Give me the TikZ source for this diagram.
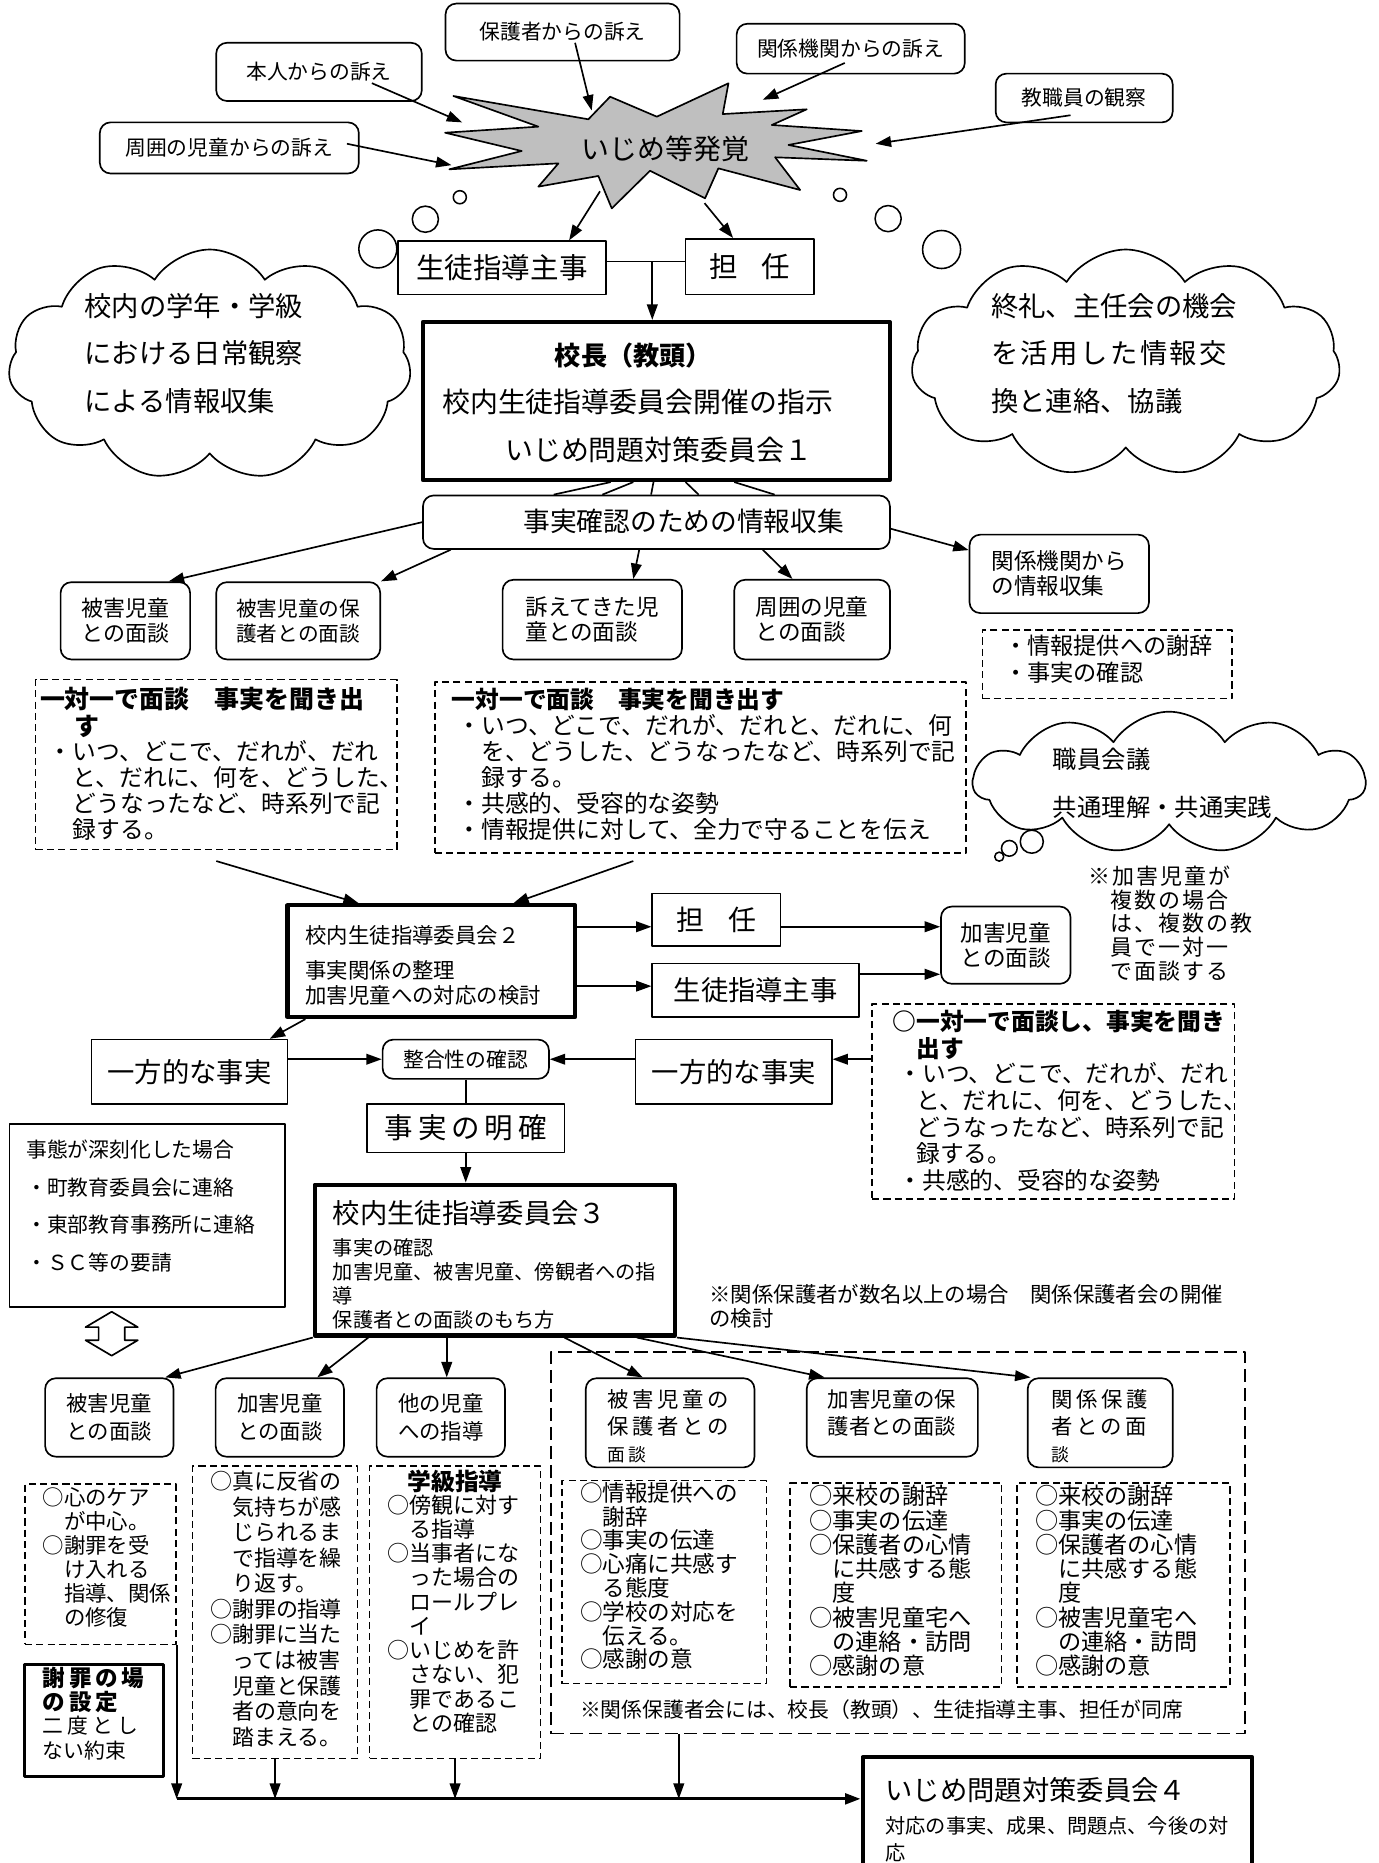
\documentclass[tikz,border=0pt]{standalone}
\usepackage{fontspec}
\setmainfont{Noto Sans CJK JP}
\usetikzlibrary{arrows.meta,calc,shapes.symbols}
\newcommand\fsz[2]{\fontsize{#1}{#2}\selectfont}
\newcommand\lsp{\addfontfeature{LetterSpace=17}}
\newcommand\lspsmall{\addfontfeature{LetterSpace=9}}
\lineskiplimit=-30pt

\begin{document}
\begin{tikzpicture}[x=1pt,y=-1pt,line join=round,>={Triangle[length=13pt,width=9pt]},
    every node/.style={inner sep=0pt},
    sqbox/.style={draw,line width=1.4pt,fill=white},
    rbox/.style={sqbox,rounded corners=9pt},
    tbox/.style={draw,line width=3.5pt,fill=white},
    dbox/.style={draw,line width=1.4pt,dash pattern=on 6pt off 3.5pt},
    gbox/.style={draw,line width=1.4pt,dash pattern=on 11pt off 5pt},
    puff/.style={cloud,draw,line width=1.4pt,fill=white,cloud puffs=11,cloud puff arc=115,cloud ignores aspect},
    bubble/.style={draw,line width=1.3pt,fill=white},
    txt/.style={align=left},
    flow/.style={->,line width=1.4pt},
    wire/.style={line width=1.4pt}]
\useasboundingbox (0,0) rectangle (1160,1568);

\draw[bubble] (387,166) circle (5.5);
\draw[bubble] (358,184.5) circle (11);
\draw[bubble] (318,209.5) circle (16);
\draw[bubble] (707,164) circle (5.5);
\draw[bubble] (747.5,184) circle (11);
\draw[bubble] (792.5,210) circle (16);
\draw[bubble] (841,721) circle (3.8);
\draw[bubble] (849.5,714) circle (6.6);
\draw[bubble] (868.4,708.4) circle (9.7);

\draw[line width=1.4pt,fill=black!25] (381.6,80.8) -- (495.2,100.4) -- (513.5,81.4) -- (552.8,98.2) -- (613.1,70.1) -- (608.3,96) -- (679,92) -- (649.6,105.2) -- (725.3,110.3) -- (663.6,122) -- (729.5,135.3) -- (652.4,132.4) -- (673.4,159.9) -- (604.6,141.7) -- (593.4,166.9) -- (547.1,143.7) -- (514.9,175.4) -- (503.6,148.1) -- (453.1,157.1) -- (470,137.5) -- (378.2,142.5) -- (439.1,127.1) -- (374.6,111.7) -- (453.1,106.6) -- cycle;
\node[font=\fsz{23.5}{26}] (hakkaku) at (560,125) {いじめ等発覚};
\coordinate (sHonnin) at (389,103);
\coordinate (sHogosha) at (498,93);
\coordinate (sKankei) at (642,84);
\coordinate (sKyoshoku) at (737,121);
\coordinate (sShui) at (380,139);
\coordinate (sLowL) at (505,161);
\coordinate (sLowR) at (593,171);

\node[rbox,minimum width=197pt,minimum height=48pt,font=\fsz{17.5}{20}] (hogosha) at (473.5,27) {保護者からの訴え};
\node[rbox,minimum width=173pt,minimum height=49pt,font=\fsz{17.5}{20}] (honnin) at (268.5,60.5) {本人からの訴え};
\node[rbox,minimum width=192pt,minimum height=42pt,font=\fsz{17.5}{20}] (kankei) at (716,41) {関係機関からの訴え};
\node[rbox,minimum width=149pt,minimum height=41pt,font=\fsz{17.5}{20}] (kyoshoku) at (912.5,82.5) {教職員の観察};
\node[rbox,minimum width=218pt,minimum height=43pt,font=\fsz{17.5}{20}] (shui) at (193,124.5) {周囲の児童からの訴え};
\draw[flow] ($(honnin.center)+(44.5,9.5)$) -- (sHonnin);
\draw[flow] ($(hogosha.center)+(10.5,9)$) -- (sHogosha);
\draw[flow] ($(kankei.center)+(-5,12)$) -- (sKankei);
\draw[flow] ($(kyoshoku.center)+(-11.5,14.5)$) -- (sKyoshoku);
\draw[flow] ($(shui.center)+(99,-3.5)$) -- (sShui);

\node[puff,minimum width=339pt,minimum height=194pt] (cloudL) at (176.5,307) {};
\node[txt,anchor=north west,font=\fsz{23}{40}] (cloudLtext) at (71,246.5) {校内の学年・学級\\における日常観察\\による情報収集};
\node[puff,minimum width=361pt,minimum height=191pt] (cloudR) at (947.5,305.5) {};
\node[txt,anchor=north west,font=\fsz{23}{40}] (cloudRtext) at (834,246.5) {終礼、主任会の機会\\{\lspsmall を活用した情報交}\\換と連絡、協議};

\node[sqbox,minimum width=175pt,minimum height=45pt,font=\fsz{24}{26}] (shido1) at (422.5,225.5) {生徒指導主事};
\node[sqbox,minimum width=108pt,minimum height=47pt,font=\fsz{24}{26}] (tannin1) at (631,224.5) {担\hspace{20pt}任};
\draw[flow] (sLowL) -- ($(shido1.north)+(56.5,0)$);
\draw[flow] (sLowR) -- ($(tannin1.north)+(-14,0)$);
\coordinate (join) at (549,220);
\draw[wire] (shido1.east |- join) -- (tannin1.west |- join);

\node[tbox,minimum width=393pt,minimum height=133pt] (kocho) at (552.5,337.5) {};
\node[font=\fsz{22}{26}\bfseries] (kochoA) at (533,299) {校長（教頭）};
\node[txt,anchor=west,font=\fsz{23.5}{28}] (kochoB) at (372,338) {校内生徒指導委員会開催の指示};
\node[txt,anchor=west,font=\fsz{23.5}{28}] (kochoC) at (425,379) {いじめ問題対策委員会１};
\draw[flow] (join) -- (join |- kocho.north);

\node[rbox,minimum width=393pt,minimum height=45pt] (jijitsu) at (552.5,439.5) {};
\node[font=\fsz{22.5}{26}] (jijitsuText) at (575.5,439) {事実確認のための情報収集};
\draw[wire] ($(kocho.south)+(-38.5,0)$) -- ($(jijitsu.north)+(-86.5,0)$);
\draw[wire] ($(kocho.south)+(-19.5,0)$) -- ($(jijitsu.north)+(-45.5,0)$);
\draw[wire] ($(kocho.south)+(-2.5,0)$) -- ($(jijitsu.north)+(-4.5,0)$);
\draw[wire] ($(kocho.south)+(24.5,0)$) -- ($(jijitsu.north)+(35.5,0)$);
\draw[wire] ($(kocho.south)+(65.5,0)$) -- ($(jijitsu.north)+(99.5,0)$);

\node[rbox,minimum width=109pt,minimum height=65pt,align=center,font=\fsz{18.5}{21}] (higai1) at (105.5,522.5) {被害児童\\との面談};
\node[rbox,minimum width=138pt,minimum height=65pt,align=left,font=\fsz{17.4}{21}] (higaiHogo1) at (251,522.5) {被害児童の保\\護者との面談};
\node[rbox,minimum width=151pt,minimum height=67pt,align=left,font=\fsz{19}{21}] (uttae) at (498.5,521.5) {訴えてきた児\\童との面談};
\node[rbox,minimum width=131pt,minimum height=67pt,align=left,font=\fsz{19}{21}] (shui2) at (683.5,521.5) {周囲の児童\\との面談};
\node[rbox,minimum width=151pt,minimum height=66pt,align=left,font=\fsz{19}{21}] (kankeiJoho) at (891.5,483) {関係機関から\\の情報収集};
\draw[flow] (jijitsu.west) -- ($(higai1.north)+(36.5,0)$);
\draw[flow] ($(jijitsu.south west)+(24,0)$) -- (higaiHogo1.north east);
\draw[flow] ($(jijitsu.south)+(-14.5,0)$) -- ($(uttae.north)+(34.5,0)$);
\draw[flow] ($(jijitsu.south)+(89.5,0)$) -- ($(shui2.north)+(-16.5,0)$);
\draw[flow] ($(jijitsu.east)+(0,5.5)$) -- ($(kankeiJoho.west)+(0,-20)$);

\node[dbox,minimum width=210pt,minimum height=58pt] (shaji) at (932,559) {};
\node[txt,anchor=north west,font=\fsz{19.5}{23}] (shajiText) at (845,534) {・情報提供への謝辞\\・事実の確認};

\node[dbox,minimum width=304pt,minimum height=143pt] (menL) at (182,643.5) {};
\node[txt,anchor=north west,font=\fsz{21}{22}\bfseries] (menLhead) at (33.5,578.5) {一対一で面談　事実を聞き出\\\hspace*{1.4em}す};
\node[txt,anchor=north west,font=\fsz{20}{22}] (menLbody) at (41,623) {・いつ、どこで、だれが、だれ\\\hspace*{1em}と、だれに、何を、どうした、\\\hspace*{1em}どうなったなど、時系列で記\\\hspace*{1em}録する。};
\node[dbox,minimum width=447pt,minimum height=144pt] (menM) at (589.5,646) {};
\node[txt,anchor=north west,font=\fsz{20}{22}\bfseries] (menMhead) at (380,579) {一対一で面談　事実を聞き出す};
\node[txt,anchor=north west,font=\fsz{20}{22}] (menMbody) at (385,601) {・いつ、どこで、だれが、だれと、だれに、何\\\hspace*{1em}を、どうした、どうなったなど、時系列で記\\\hspace*{1em}録する。\\・共感的、受容的な姿勢\\・情報提供に対して、全力で守ることを伝え};

\node[puff,minimum width=330pt,minimum height=119pt] (shokuin) at (984,658.5) {};
\node[txt,anchor=north west,font=\fsz{20.5}{40}] (shokuinText) at (886,629.75) {職員会議\\共通理解・共通実践};

\node[tbox,minimum width=242pt,minimum height=94pt] (iinkai2) at (363,809) {};
\node[txt,anchor=west,font=\fsz{18}{21}] (iinkai2A) at (257,787) {校内生徒指導委員会２};
\node[txt,anchor=north west,font=\fsz{18}{21}] (iinkai2B) at (257,808) {事実関係の整理\\加害児童への対応の検討};
\draw[flow] ($(menL.south)+(0,9)$) -- ($(iinkai2.north)+(-61,0)$);
\draw[flow] ($(menM.south)+(-56.5,6)$) -- ($(iinkai2.north)+(69,0)$);

\node[sqbox,minimum width=108pt,minimum height=44pt,font=\fsz{23.5}{26}] (tannin2) at (603,774) {担\hspace{20pt}任};
\node[sqbox,minimum width=174pt,minimum height=45pt,font=\fsz{23}{26}] (shido2) at (636,833.5) {生徒指導主事};
\node[rbox,minimum width=109pt,minimum height=65pt,align=center,font=\fsz{19}{21}] (kagai1) at (846.5,795.5) {加害児童\\との面談};
\node[txt,anchor=north west,font=\fsz{18.5}{20}\lspsmall] (kagaiNote) at (916,728.5) {※加害児童が\\\hspace*{1em}複数の場合\\\hspace*{1em}は、複数の教\\\hspace*{1em}員で一対一\\\hspace*{1em}で面談する};
\draw[flow] ($(iinkai2.east)+(0,-29)$) -- ($(tannin2.west)+(0,6)$);
\draw[flow] ($(iinkai2.east)+(0,21)$) -- ($(shido2.west)+(0,-3.5)$);
\draw[flow] ($(tannin2.east)+(0,6)$) -- ($(kagai1.west)+(0,-15.5)$);
\draw[flow] ($(shido2.east)+(0,-13.5)$) -- ($(kagai1.west)+(0,24.5)$);

\node[sqbox,minimum width=165pt,minimum height=54pt,font=\fsz{23}{26}] (ippoL) at (159.5,902) {一方的な事実};
\node[rbox,minimum width=140pt,minimum height=33pt,font=\fsz{17.5}{20}] (seigo) at (392,891.5) {整合性の確認};
\node[sqbox,minimum width=165pt,minimum height=54pt,font=\fsz{23}{26}] (ippoR) at (617.5,902) {一方的な事実};
\node[sqbox,minimum width=166pt,minimum height=41pt,font=\fsz{24}{26}] (meikaku) at (392,949.5) {事\,実\,の\,明\,確};
\node[dbox,minimum width=305pt,minimum height=164pt] (menR) at (886.5,927) {};
\node[txt,anchor=north west,font=\fsz{20}{23}\bfseries] (menRhead) at (751,850) {○一対一で面談し、事実を聞き\\\hspace*{1em}出す};
\node[txt,anchor=north west,font=\fsz{20}{22.5}] (menRbody) at (756,894) {・いつ、どこで、だれが、だれ\\\hspace*{0.75em}と、だれに、何を、どうした、\\\hspace*{0.75em}どうなったなど、時系列で記\\\hspace*{0.75em}録する。\\・共感的、受容的な姿勢};
\draw[flow] ($(iinkai2.south)+(-106,0)$) -- ($(ippoL.north)+(67.5,0)$);
\draw[flow] (ippoL.east |- seigo.west) -- (seigo.west);
\draw[flow] (ippoR.west |- seigo.east) -- (seigo.east);
\draw[flow] (menR.west |- seigo.east) -- (ippoR.east |- seigo.east);
\draw[wire] (seigo.south) -- (meikaku.north);

\node[sqbox,minimum width=232pt,minimum height=154pt] (shinkoku) at (124,1023) {};
\node[txt,anchor=north west,font=\fsz{17.5}{31.7}] (shinkokuText) at (22,959.25) {事態が深刻化した場合\\・町教育委員会に連絡\\・東部教育事務所に連絡\\・ＳＣ等の要請};
\draw[line width=1.4pt,fill=white] (94,1104) -- (116,1117) -- (105,1117) -- (105,1128) -- (116,1128) -- (94,1141) -- (72,1128) -- (83,1128) -- (83,1117) -- (72,1117) -- cycle;

\node[tbox,minimum width=303pt,minimum height=127pt] (iinkai3) at (416.5,1060.5) {};
\node[txt,anchor=west,font=\fsz{23}{26}] (iinkai3A) at (280,1021) {校内生徒指導委員会３};
\node[txt,anchor=north west,font=\fsz{17}{20}] (iinkai3B) at (280,1042.5) {事実の確認\\加害児童、被害児童、傍観者への指\\導\\保護者との面談のもち方};
\draw[flow] (meikaku.south) -- (meikaku.south |- iinkai3.north);
\node[txt,anchor=north west,font=\fsz{18}{20}] (hogoNote) at (597,1081) {※関係保護者が数名以上の場合　関係保護者会の開催\\の検討};

\node[rbox,minimum width=108pt,minimum height=66pt,align=center,font=\fsz{18}{23}] (higai3) at (92,1193) {被害児童\\との面談};
\node[rbox,minimum width=108pt,minimum height=66pt,align=center,font=\fsz{18}{23}] (kagai3) at (235.5,1193) {加害児童\\との面談};
\node[rbox,minimum width=108pt,minimum height=66pt,align=center,font=\fsz{18}{23}] (hoka3) at (371,1193) {他の児童\\への指導};
\node[gbox,minimum width=584pt,minimum height=321pt] (hogoGroup) at (756,1298.5) {};
\node[rbox,minimum width=142pt,minimum height=75pt] (higaiHogo3) at (564,1197.5) {};
\node[txt,anchor=north west,font=\fsz{18}{22.5}\lsp] (higaiHogo3Text) at (511,1169.5) {被害児童の\\保護者との\\{\fsz{15}{18}面談}};
\node[rbox,minimum width=144pt,minimum height=66pt] (kagaiHogo3) at (751,1193) {};
\node[txt,anchor=north west,font=\fsz{18}{22.5}] (kagaiHogo3Text) at (696.6,1169.5) {加害児童の保\\護者との面談};
\node[rbox,minimum width=122pt,minimum height=75pt] (kankeiHogo3) at (926,1197.5) {};
\node[txt,anchor=north west,font=\fsz{18}{22.5}\lsp] (kankeiHogo3Text) at (884.4,1169.5) {関係保護\\者との面\\{\fsz{15}{18}談}};
\draw[flow] (iinkai3.south west) -- ($(higai3.north)+(47,0)$);
\draw[flow] ($(iinkai3.south)+(-106.5,0)$) -- ($(kagai3.north)+(31.5,0)$);
\draw[flow] ($(iinkai3.south)+(-40.5,0)$) -- ($(hoka3.north)+(5,0)$);
\draw[flow] ($(iinkai3.south)+(58.5,0)$) -- ($(higaiHogo3.north)+(-23,0)$);
\draw[flow] ($(iinkai3.south)+(119.5,0)$) -- ($(kagaiHogo3.north)+(-57,0)$);
\draw[flow] (iinkai3.south east) -- ($(kankeiHogo3.north west)+(3,0)$);

\node[dbox,minimum width=172pt,minimum height=171pt] (subA) at (559,1331.5) {};
\node[txt,anchor=north west,font=\fsz{19}{20}] (subAText) at (488,1247.5) {○情報提供への\\\hspace*{1em}謝辞\\○事実の伝達\\○心痛に共感す\\\hspace*{1em}る態度\\○学校の対応を\\\hspace*{1em}伝える。\\○感謝の意};
\node[dbox,minimum width=178pt,minimum height=172pt] (subB) at (754,1334) {};
\node[txt,anchor=north west,font=\fsz{19.5}{20.4}] (subBText) at (681,1250) {○来校の謝辞\\○事実の伝達\\○保護者の心情\\\hspace*{1em}に共感する態\\\hspace*{1em}度\\○被害児童宅へ\\\hspace*{1em}の連絡・訪問\\○感謝の意};
\node[dbox,minimum width=179pt,minimum height=172pt] (subC) at (945.5,1334) {};
\node[txt,anchor=north west,font=\fsz{19.5}{20.4}] (subCText) at (871,1250) {○来校の謝辞\\○事実の伝達\\○保護者の心情\\\hspace*{1em}に共感する態\\\hspace*{1em}度\\○被害児童宅へ\\\hspace*{1em}の連絡・訪問\\○感謝の意};
\node[txt,anchor=west,font=\fsz{17.5}{20}] (groupNote) at (488,1439) {※関係保護者会には、校長（教頭）、生徒指導主事、担任が同席};

\node[dbox,minimum width=127pt,minimum height=135pt] (careBox) at (84.5,1316.5) {};
\node[txt,anchor=north west,font=\fsz{18}{20.2}] (careText) at (35.7,1252) {○心のケア\\\hspace*{1em}が中心。\\○謝罪を受\\\hspace*{1em}け入れる\\\hspace*{1em}指導、関係\\\hspace*{1em}の修復};
\node[dbox,minimum width=139pt,minimum height=246pt] (kagaiBox) at (231.5,1357) {};
\node[txt,anchor=north west,font=\fsz{18.5}{21.5}] (kagaiText) at (176.6,1238) {○真に反省の\\\hspace*{1em}気持ちが感\\\hspace*{1em}じられるま\\\hspace*{1em}で指導を繰\\\hspace*{1em}り返す。\\○謝罪の指導\\○謝罪に当た\\\hspace*{1em}っては被害\\\hspace*{1em}児童と保護\\\hspace*{1em}者の意向を\\\hspace*{1em}踏まえる。};
\node[dbox,minimum width=144pt,minimum height=246pt] (hokaBox) at (383,1357) {};
\node[font=\fsz{20}{22}\bfseries] (hokaHead) at (383,1247) {学級指導};
\node[txt,anchor=north west,font=\fsz{18.5}{20.4}] (hokaText) at (326,1257.75) {○傍観に対す\\\hspace*{1em}る指導\\○当事者にな\\\hspace*{1em}った場合の\\\hspace*{1em}ロールプレ\\\hspace*{1em}イ\\○いじめを許\\\hspace*{1em}さない、犯\\\hspace*{1em}罪であるこ\\\hspace*{1em}との確認};
\node[draw,line width=2.5pt,fill=white,minimum width=117pt,minimum height=94pt] (shazai) at (79.5,1448) {};
\node[txt,anchor=north west,font=\fsz{19}{20.5}\bfseries\lsp] (shazaiHead) at (35.8,1403) {謝罪の場\\の設定};
\node[txt,anchor=north west,font=\fsz{17.5}{21}] (shazaiText) at (35.8,1444.5) {二\hspace{3.5pt}度\hspace{3.5pt}と\hspace{3.5pt}し\\ない約束};

\node[tbox,minimum width=328pt,minimum height=106pt] (iinkai4) at (890,1532) {};
\node[txt,anchor=west,font=\fsz{23}{26}] (iinkai4A) at (745,1507) {いじめ問題対策委員会４};
\node[txt,anchor=north west,font=\fsz{17}{23}] (iinkai4B) at (745,1528.5) {対応の事実、成果、問題点、今後の対\\応};
\coordinate (flowL) at (149,1514);
\draw[flow] (careBox.south east) -- (careBox.south east |- flowL);
\draw[flow] (kagaiBox.south) -- (kagaiBox.south |- flowL);
\draw[flow] (hokaBox.south) -- (hokaBox.south |- flowL);
\draw[flow] ($(hogoGroup.south west)+(108,0)$) coordinate (gDrop) -- (gDrop |- flowL);
\draw[flow,line width=2.5pt] (flowL) -- (flowL -| iinkai4.west);
\end{tikzpicture}
\end{document}
